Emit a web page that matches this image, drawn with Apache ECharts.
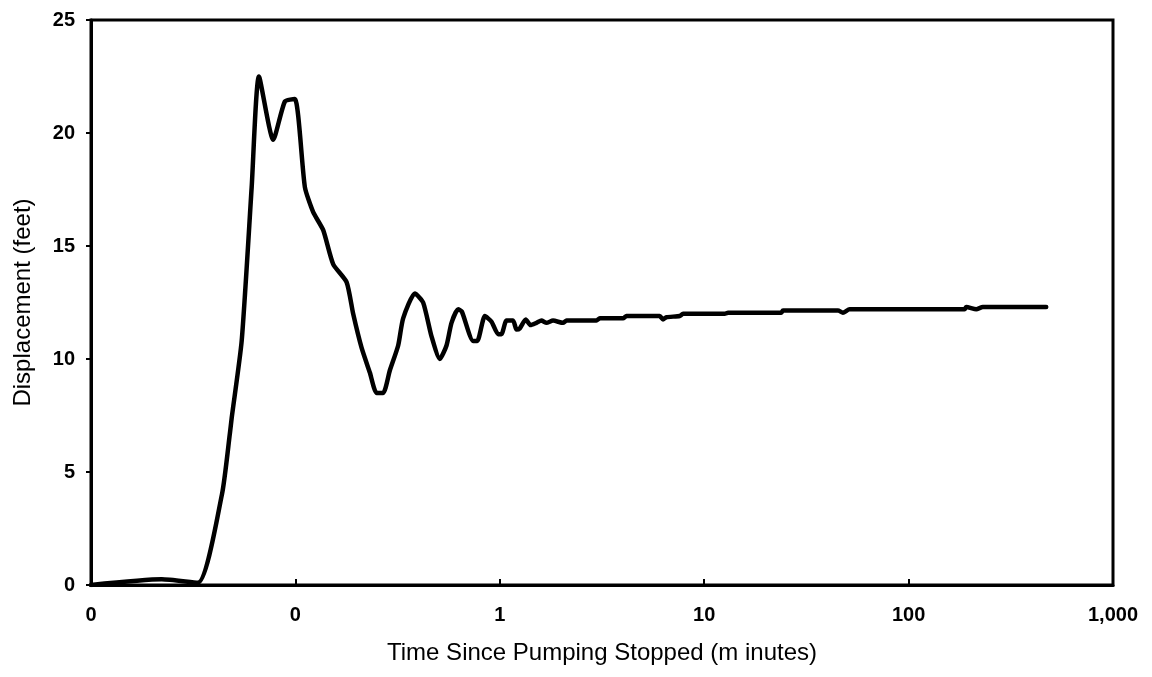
<!DOCTYPE html>
<html>
<head>
<meta charset="utf-8">
<script src="https://cdn.jsdelivr.net/npm/echarts@6/dist/echarts.min.js"></script>
<style>
html,body{margin:0;padding:0;background:#fff;}
#chart{width:1152px;height:677px;}
</style>
</head>
<body>
<div id="chart"></div>
<script>
// Time since pumping stopped (minutes)
var times = [0.01, 0.0222, 0.0333, 0.0437, 0.0478, 0.0488, 0.0546, 0.0611, 0.0663, 0.0779, 0.0889, 0.0994, 0.1113, 0.1222, 0.1368, 0.153, 0.178, 0.1917, 0.2107, 0.2313, 0.2495, 0.2688, 0.2899, 0.3183, 0.3366, 0.3841, 0.4216, 0.4634, 0.5089, 0.5487, 0.5804, 0.6253, 0.652, 0.7404, 0.776, 0.845, 0.911, 0.981, 1.019, 1.078, 1.161, 1.207, 1.252, 1.34, 1.413, 1.512, 1.599, 1.692, 1.822, 2.039, 2.12, 2.971, 3.083, 4.008, 4.164, 6.058, 6.287, 6.535, 7.591, 7.877, 12.6, 13.08, 23.86, 24.29, 45.12, 47.72, 51.45, 187.8, 191.5, 214.3, 230.8, 471.3];
// Displacement (feet)
var displacement = [0, 0.25, 0.1, 4.0, 6.7, 7.4, 10.8, 17.6, 22.5, 19.7, 21.4, 21.5, 17.6, 16.5, 15.7, 14.2, 13.4, 12.0, 10.5, 9.4, 8.5, 8.5, 9.5, 10.6, 11.8, 12.9, 12.5, 11.0, 10.0, 10.6, 11.6, 12.2, 12.1, 10.8, 10.8, 11.9, 11.65, 11.1, 11.1, 11.7, 11.7, 11.3, 11.35, 11.75, 11.5, 11.6, 11.7, 11.6, 11.7, 11.6, 11.7, 11.7, 11.8, 11.8, 11.9, 11.9, 11.75, 11.85, 11.9, 12.0, 12.0, 12.05, 12.05, 12.15, 12.15, 12.05, 12.2, 12.2, 12.3, 12.2, 12.3, 12.3];
var yTicks = [0, 5, 10, 15, 20, 25];
var xTitle = 'Time Since Pumping Stopped (m inutes)';
var yTitle = 'Displacement (feet)';

var seriesData = times.map(function (t, i) { return [t, displacement[i]]; });

var chart = echarts.init(document.getElementById('chart'), null, {renderer: 'canvas'});
var font = 'Liberation Sans, Arial, sans-serif';
chart.setOption({
  animation: false,
  backgroundColor: '#fff',
  grid: {left: 91, right: 39, top: 20, bottom: 92, show: true, borderColor: '#000', borderWidth: 3, backgroundColor: 'transparent'},
  xAxis: {
    type: 'log', logBase: 10, min: 0.01, max: 1000,
    name: xTitle, nameLocation: 'middle', nameGap: 56,
    nameTextStyle: {fontFamily: font, fontSize: 24, color: '#000'},
    axisLine: {show: true, onZero: false, lineStyle: {color: '#000', width: 3}},
    axisTick: {show: true, inside: true, length: 6, lineStyle: {color: '#000', width: 2}},
    splitLine: {show: false},
    minorTick: {show: false},
    axisLabel: {
      margin: 20, fontFamily: font, fontSize: 20, fontWeight: 'bold', color: '#000',
      formatter: function (v) { return Math.round(v).toLocaleString('en-US'); }
    }
  },
  yAxis: {
    type: 'value', min: yTicks[0], max: yTicks[yTicks.length - 1], interval: 5,
    name: yTitle, nameLocation: 'middle', nameGap: 56,
    nameTextStyle: {fontFamily: font, fontSize: 24, color: '#000'},
    axisLine: {show: true, lineStyle: {color: '#000', width: 3}},
    axisTick: {show: true, inside: false, length: 5, lineStyle: {color: '#000', width: 2}},
    splitLine: {show: false},
    axisLabel: {margin: 16, fontFamily: font, fontSize: 20, fontWeight: 'bold', color: '#000'}
  },
  series: [{
    type: 'line', data: seriesData, showSymbol: false, smooth: 0.2,
    lineStyle: {color: '#000', width: 4.5, join: 'round', cap: 'round'}
  }]
});
</script>
</body>
</html>
